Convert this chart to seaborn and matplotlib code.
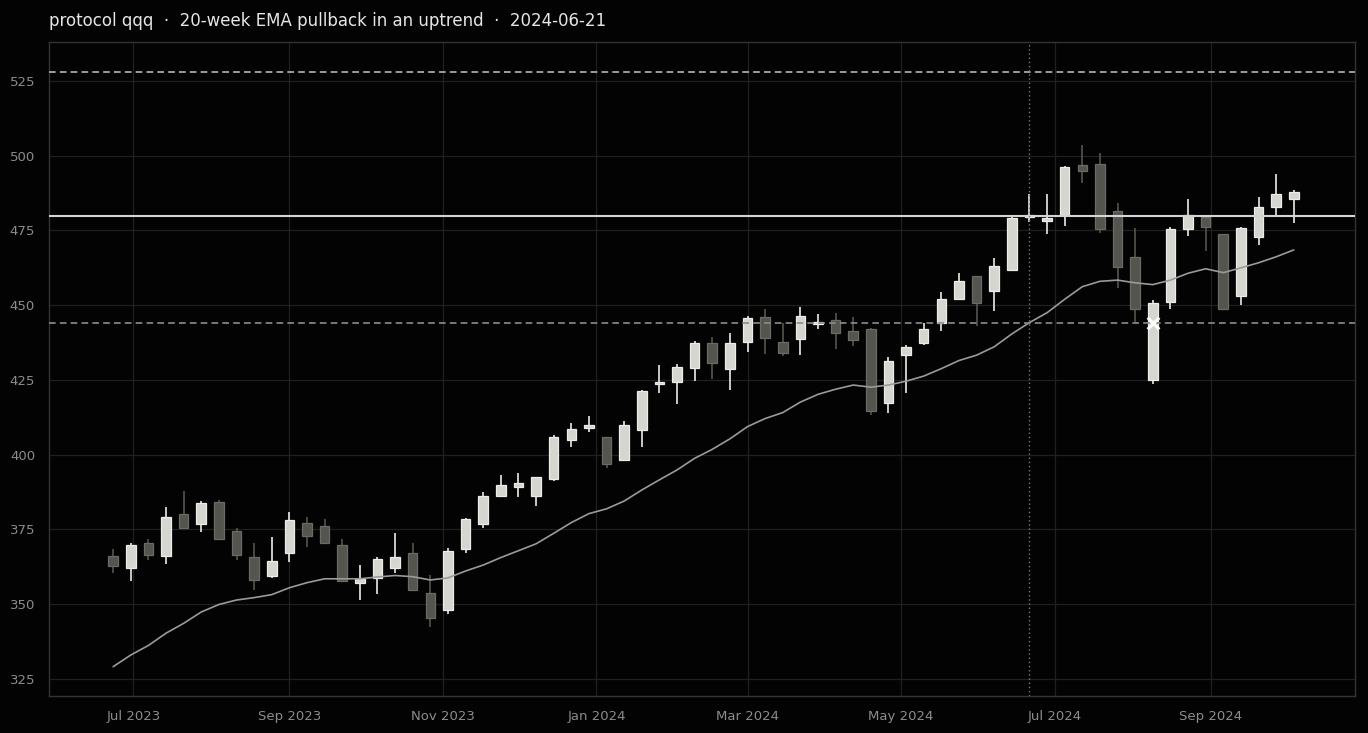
import pandas as pd
import matplotlib
matplotlib.use("Agg")
import matplotlib.pyplot as plt
import matplotlib.dates as mdates
import seaborn as sns

# Weekly candles (Fridays)
start_date = "2023-06-23"
n_weeks = 68

opens = [366.2, 362.0, 370.4, 366.0, 380.1, 376.7, 384.1, 374.4, 365.7, 359.6,
         367.0, 377.1, 376.1, 369.7, 357.0, 358.7, 362.2, 367.0, 353.7, 348.0,
         368.4, 376.7, 386.1, 389.1, 386.1, 391.8, 404.8, 409.0, 406.0, 398.1,
         408.2, 423.6, 424.2, 429.1, 437.3, 428.6, 437.6, 446.0, 437.8, 438.6,
         443.6, 445.1, 441.5, 442.2, 417.2, 433.3, 437.3, 444.0, 452.0, 459.7,
         454.8, 461.8, 479.4, 478.1, 480.1, 496.8, 497.1, 481.4, 466.0, 425.0,
         451.2, 475.4, 479.6, 473.7, 453.1, 472.9, 483.0, 485.6]
closes = [362.8, 369.7, 366.4, 379.3, 375.6, 383.8, 371.9, 366.4, 358.0, 364.5,
          378.1, 372.7, 370.6, 357.9, 358.5, 365.0, 365.7, 354.7, 345.3, 367.9,
          378.6, 386.3, 389.8, 390.5, 392.5, 405.8, 408.7, 409.8, 396.8, 409.8,
          421.4, 424.3, 429.2, 437.3, 430.6, 437.3, 445.8, 438.9, 433.9, 446.5,
          444.3, 440.6, 438.3, 414.5, 431.3, 435.9, 442.2, 452.0, 458.2, 450.7,
          463.2, 479.2, 480.3, 479.3, 496.3, 494.8, 475.4, 462.9, 448.6, 450.7,
          475.4, 480.2, 476.3, 448.6, 475.7, 482.8, 487.2, 487.8]
highs = [368.4, 370.4, 371.9, 382.6, 388.0, 384.6, 384.8, 375.4, 370.4, 372.6,
         380.8, 379.3, 378.4, 371.7, 363.0, 365.9, 373.7, 370.4, 359.9, 368.9,
         378.8, 387.6, 393.1, 394.0, 392.7, 406.5, 410.5, 412.9, 406.0, 411.2,
         421.6, 430.0, 430.3, 437.9, 439.3, 440.6, 446.5, 448.6, 444.2, 449.3,
         447.2, 447.5, 446.2, 442.4, 432.6, 436.6, 444.2, 454.5, 460.7, 459.9,
         465.7, 479.4, 487.2, 487.1, 496.5, 503.5, 501.0, 484.3, 475.7, 451.8,
         476.3, 485.4, 480.0, 473.9, 476.3, 486.1, 493.8, 488.5]
lows = [360.4, 357.8, 364.8, 363.4, 375.1, 374.3, 371.7, 364.8, 354.8, 358.7,
        364.2, 369.0, 370.0, 357.7, 351.4, 353.3, 360.6, 354.3, 342.3, 346.6,
        367.0, 375.4, 386.0, 385.8, 382.9, 391.3, 402.7, 407.5, 395.5, 397.8,
        402.7, 420.6, 416.9, 424.8, 425.2, 421.7, 434.3, 433.7, 433.0, 433.4,
        442.0, 435.3, 436.4, 413.2, 413.9, 420.6, 436.6, 441.5, 452.0, 443.2,
        448.1, 461.8, 477.9, 473.8, 476.5, 490.8, 474.3, 455.7, 444.5, 423.6,
        448.6, 473.3, 468.1, 448.4, 450.1, 470.0, 479.8, 477.4]
ema20 = [329.1, 333.0, 336.2, 340.3, 343.6, 347.4, 349.9, 351.4, 352.2, 353.2,
         355.5, 357.2, 358.5, 358.5, 358.5, 359.1, 359.6, 359.2, 358.1, 358.8,
         361.1, 363.1, 365.6, 367.9, 370.2, 373.7, 377.3, 380.3, 381.9, 384.5,
         388.2, 391.6, 394.9, 398.8, 401.8, 405.3, 409.4, 412.1, 414.1, 417.6,
         420.2, 421.9, 423.3, 422.6, 423.3, 424.6, 426.3, 428.8, 431.5, 433.3,
         436.1, 440.4, 444.2, 447.5, 452.0, 456.2, 458.0, 458.4, 457.5, 456.9,
         458.4, 460.7, 462.2, 460.9, 462.5, 464.2, 466.2, 468.5]

# reference levels
resistance = 480.0
upper_level = 528.0
lower_level = 444.0
signal_date = "2024-06-21"
marker_date = "2024-08-09"
marker_price = 444.0

title = "protocol qqq  \u00b7  20-week EMA pullback in an uptrend  \u00b7  2024-06-21"

BG = "#030303"
UP_FILL, UP_EDGE = "#d6d6d0", "#ececea"
DN_FILL, DN_EDGE = "#55554f", "#6b6b65"

sns.set_theme(style="darkgrid", rc={
    "axes.facecolor": BG,
    "figure.facecolor": BG,
    "grid.color": "#202020",
    "grid.linewidth": 0.9,
    "axes.edgecolor": "#333333",
    "xtick.color": "#8c8c8c",
    "ytick.color": "#8c8c8c",
    "text.color": "#e6e6e6",
})
plt.rcParams["font.family"] = ["DejaVu Sans"]

df = pd.DataFrame({
    "date": pd.date_range(start_date, periods=n_weeks, freq="W-FRI"),
    "open": opens, "high": highs, "low": lows, "close": closes, "ema": ema20,
})
df["up"] = df["close"] >= df["open"]
df["body_lo"] = df[["open", "close"]].min(axis=1)
df["body_h"] = (df["close"] - df["open"]).abs().clip(lower=0.7)

fig = plt.figure(figsize=(13.68, 7.33), dpi=100)
ax = fig.add_axes([0.0358, 0.0505, 0.955, 0.892])

for is_up, fill, edge in [(True, UP_FILL, UP_EDGE), (False, DN_FILL, DN_EDGE)]:
    sub = df[df["up"] == is_up]
    ax.vlines(sub["date"], sub["low"], sub["high"], color=edge if is_up else DN_FILL,
              linewidth=1.2, zorder=1)
    ax.bar(sub["date"], sub["body_h"], bottom=sub["body_lo"], width=3.8,
           color=fill, edgecolor=edge, linewidth=0.9, zorder=1.2)

sns.lineplot(data=df, x="date", y="ema", ax=ax, color="#9a9a9a", linewidth=1.2, zorder=3)

ax.axhline(resistance, color="#d4d4d4", linewidth=1.5, zorder=3)
ax.axhline(upper_level, color="#b5b5b5", linewidth=1.2, linestyle=(0, (4, 2.5)), zorder=3)
ax.axhline(lower_level, color="#8c8c8c", linewidth=1.2, linestyle=(0, (4, 2.5)), zorder=3)
ax.axvline(pd.Timestamp(signal_date), color="#7a7a7a", linewidth=1.0, linestyle=(0, (1, 2)), zorder=3)
ax.scatter([pd.Timestamp(marker_date)], [marker_price], marker="x", s=70,
           color="#ffffff", linewidths=2.2, zorder=4)

ax.set_xlim(pd.Timestamp("2023-05-28 12:00"), pd.Timestamp("2024-10-28 12:00"))
ax.set_ylim(319.3, 538.0)
ax.set_yticks(range(325, 526, 25))
ax.xaxis.set_major_locator(mdates.MonthLocator(bymonth=[1, 3, 5, 7, 9, 11]))
ax.xaxis.set_major_formatter(mdates.DateFormatter("%b %Y"))
ax.tick_params(axis="both", labelsize=9.5, length=4, color="#444444", pad=6)
ax.set_xlabel("")
ax.set_ylabel("")
for s in ax.spines.values():
    s.set_color("#333333")
    s.set_linewidth(1.0)

fig.text(0.0358, 0.972, title, fontsize=12, color="#e6e6e6", ha="left", va="center")

fig.savefig("out.png", dpi=100, facecolor=BG)
